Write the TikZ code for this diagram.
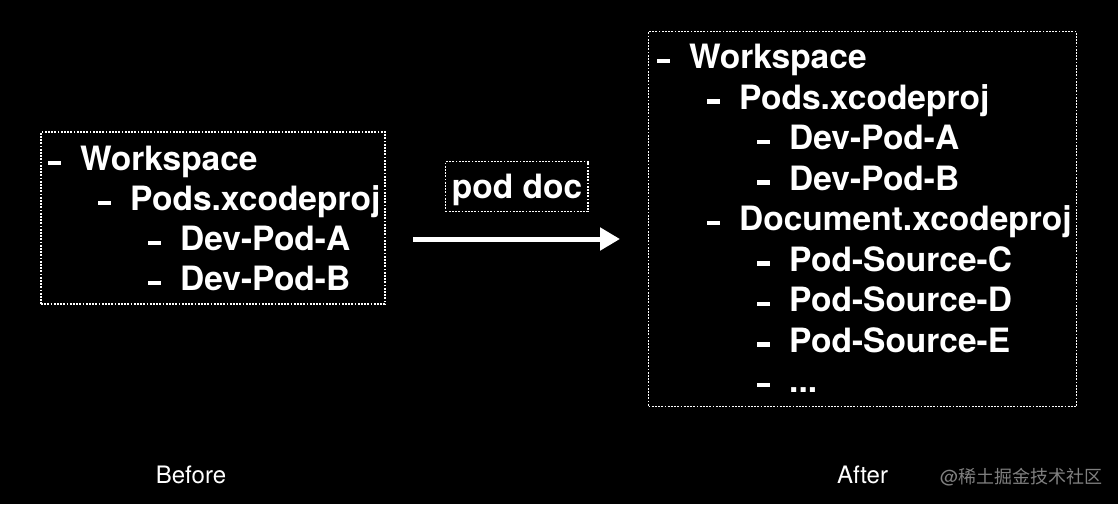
\documentclass[tikz,border=0pt]{standalone}
\usepackage{fontspec}
\setmainfont{TeX Gyre Heros}
\newfontfamily\cjkfont{Noto Sans CJK SC}
\usetikzlibrary{arrows.meta}
\newcommand\dashitem[1]{\makebox[32pt][l]{\rule[5.5pt]{13pt}{4.2pt}}#1}
\begin{document}
\begin{tikzpicture}[x=1pt,y=-1pt,
  item/.style={anchor=base west, inner sep=0pt, text=white, font=\bfseries\fontsize{33.5}{40}\selectfont},
  dotbox/.style={draw=white, line width=1.8pt, dash pattern=on 1.8pt off 1.4pt, inner sep=0pt},
  caption/.style={anchor=base, inner sep=0pt, text=white, font=\fontsize{24}{28}\selectfont},
  arrowline/.style={draw=white, line width=5pt, -{Triangle[length=20pt,width=22pt]}}]
\fill[black] (0,0) rectangle (1118,504);
\useasboundingbox (0,0) rectangle (1118,504);
% boxes
\node[dotbox, minimum width=344pt, minimum height=172pt] (beforebox) at (213,218) {};
\node[dotbox, minimum width=428pt, minimum height=375pt] (afterbox) at (862.5,219) {};
\node[dotbox, minimum width=142.5pt, minimum height=50pt] (podbox) at (516.75,186.5) {};
\node[item, anchor=base] (podtext) at (517,198) {pod doc};
% before items
\node[item] (b1) at (48,170.5) {\dashitem{Workspace}};
\node[item] (b2) at (98,210.5) {\dashitem{Pods.xcodeproj}};
\node[item] (b3) at (148,250.5) {\dashitem{Dev-Pod-A}};
\node[item] (b4) at (148,290.5) {\dashitem{Dev-Pod-B}};
% after items
\node[item] (a1) at (657,68.5) {\dashitem{Workspace}};
\node[item] (a2) at (707,109) {\dashitem{Pods.xcodeproj}};
\node[item] (a3) at (757,149.5) {\dashitem{Dev-Pod-A}};
\node[item] (a4) at (757,190) {\dashitem{Dev-Pod-B}};
\node[item] (a5) at (707,230.5) {\dashitem{Document.xcodeproj}};
\node[item] (a6) at (757,271) {\dashitem{Pod-Source-C}};
\node[item] (a7) at (757,311.5) {\dashitem{Pod-Source-D}};
\node[item] (a8) at (757,352) {\dashitem{Pod-Source-E}};
\node[item] (a9) at (757,392.5) {\dashitem{...}};
% arrow
\coordinate (arrowstart) at (413,239);
\coordinate (arrowend) at (620,239);
\draw[arrowline] (arrowstart) -- (arrowend);
% captions
\node[caption] (before) at (191,483) {Before};
\node[caption] (after) at (862.5,483) {After};
\node[anchor=base west, inner sep=0pt, text=white!50!black, font=\fontsize{18}{22}\selectfont] (mark) at (940,483) {@{\cjkfont 稀土掘金技术社区}};
\end{tikzpicture}
\end{document}
